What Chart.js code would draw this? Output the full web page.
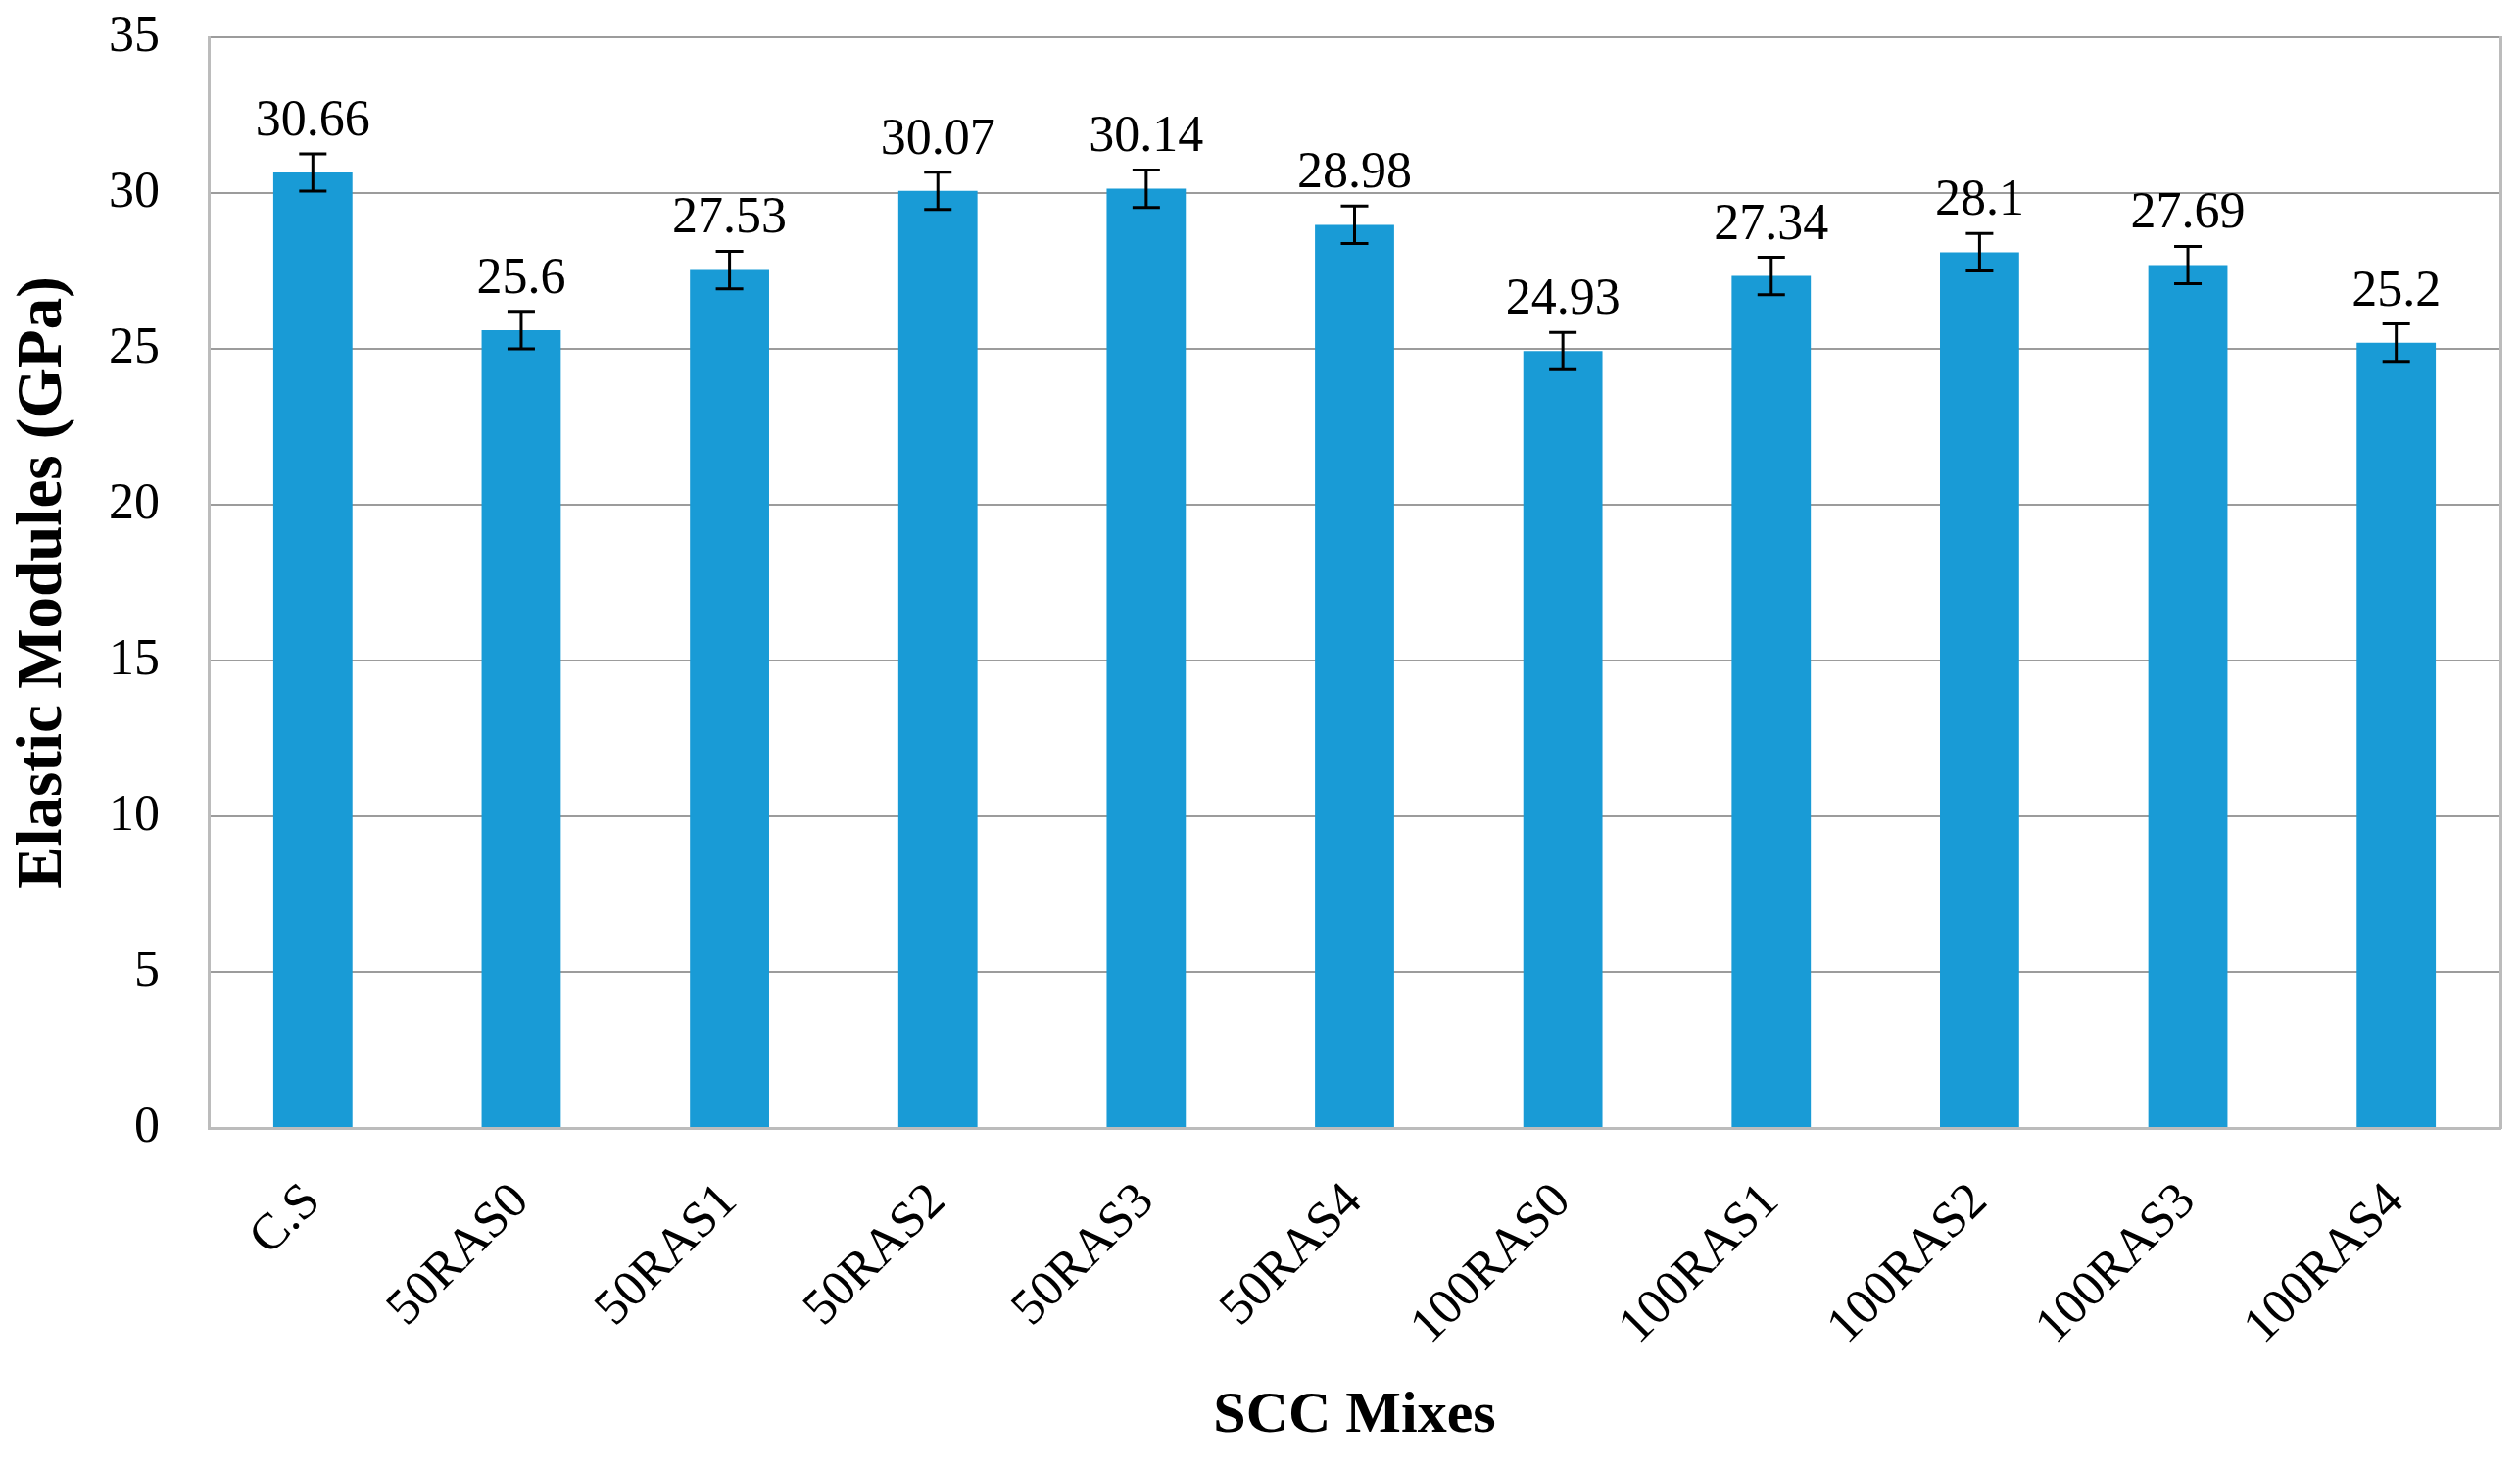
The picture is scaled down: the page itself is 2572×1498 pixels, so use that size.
<!DOCTYPE html>
<html>
<head>
<meta charset="utf-8">
<script src="https://cdn.jsdelivr.net/npm/chart.js@4/dist/chart.umd.min.js"></script>
<style>
html,body{margin:0;padding:0;background:#fff;overflow:hidden;}
#wrap{width:2572px;height:1498px;position:relative;}
</style>
</head>
<body>
<div id="wrap"><canvas id="c" width="2572" height="1498"></canvas></div>
<script>
// ---- data ----
const categories = ['C.S','50RAS0','50RAS1','50RAS2','50RAS3','50RAS4','100RAS0','100RAS1','100RAS2','100RAS3','100RAS4'];
const values = [30.66, 25.6, 27.53, 30.07, 30.14, 28.98, 24.93, 27.34, 28.1, 27.69, 25.2];
const errors = [0.6, 0.6, 0.6, 0.6, 0.6, 0.6, 0.6, 0.6, 0.6, 0.6, 0.6];
const yMin = 0, yMax = 35, yStep = 5;
const yTitle = 'Elastic Modules (GPa)';
const xTitle = 'SCC Mixes';

const SERIF = '"Liberation Serif", "Times New Roman", serif';
const BAR_COLOR = '#199bd6';
const GRID_COLOR = '#9c9c9c';
const BORDER_COLOR = '#bcbcbc';

const errorBarPlugin = {
  id: 'errorBars',
  afterDatasetsDraw(chart) {
    const ctx = chart.ctx;
    const meta = chart.getDatasetMeta(0);
    const y = chart.scales.y;
    ctx.save();
    ctx.strokeStyle = '#000';
    ctx.lineWidth = 3;
    meta.data.forEach((bar, i) => {
      const x = bar.x;
      const top = y.getPixelForValue(values[i] + errors[i]);
      const bot = y.getPixelForValue(values[i] - errors[i]);
      const cap = 14;
      ctx.beginPath();
      ctx.moveTo(x, top); ctx.lineTo(x, bot);
      ctx.moveTo(x - cap, top); ctx.lineTo(x + cap, top);
      ctx.moveTo(x - cap, bot); ctx.lineTo(x + cap, bot);
      ctx.stroke();
      // value label
      ctx.fillStyle = '#000';
      ctx.font = '52px ' + SERIF;
      ctx.textAlign = 'center';
      ctx.textBaseline = 'alphabetic';
      ctx.fillText(String(values[i]), x, top - 19);
    });
    ctx.restore();
  }
};

new Chart(document.getElementById('c'), {
  type: 'bar',
  data: {
    labels: categories,
    datasets: [{
      data: values,
      backgroundColor: BAR_COLOR,
      borderWidth: 0,
      barPercentage: 0.38,
      categoryPercentage: 1.0
    }]
  },
  options: {
    responsive: false,
    devicePixelRatio: 1,
    animation: false,
    layout: { padding: { top: 38, left: 0, right: 0, bottom: 0 } },
    plugins: { legend: { display: false }, tooltip: { enabled: false } },
    scales: {
      x: {
        grid: { display: false, drawTicks: false },
        border: { display: true, color: BORDER_COLOR, width: 3 },
        ticks: {
          color: '#000',
          font: { family: SERIF, size: 52 },
          minRotation: 45, maxRotation: 45,
          padding: 45,
          autoSkip: false
        },
        title: {
          display: true, text: xTitle, color: '#000',
          font: { family: SERIF, size: 60, weight: 'bold' },
          padding: { top: 0, bottom: 17 }
        },
        afterFit(s) { s.height = 347; }
      },
      y: {
        min: yMin, max: yMax,
        grid: { color: GRID_COLOR, lineWidth: 2, drawTicks: true, tickLength: 48, tickColor: 'rgba(0,0,0,0)' },
        border: { display: true, color: BORDER_COLOR, width: 3 },
        ticks: {
          stepSize: yStep, color: '#000',
          font: { family: SERIF, size: 52 },
          padding: 2
        },
        title: {
          display: true, text: yTitle, color: '#000',
          font: { family: SERIF, size: 65, weight: 'bold' },
          padding: { top: 6, bottom: 0 }
        },
        afterFit(s) { s.width = 213; }
      },
      yRight: {
        position: 'right',
        min: 0, max: 1,
        grid: { display: false, drawTicks: false },
        border: { display: true, color: BORDER_COLOR, width: 3 },
        ticks: { display: false },
        afterFit(s) { s.width = 20; }
      }
    }
  },
  plugins: [errorBarPlugin]
});
</script>
</body>
</html>
